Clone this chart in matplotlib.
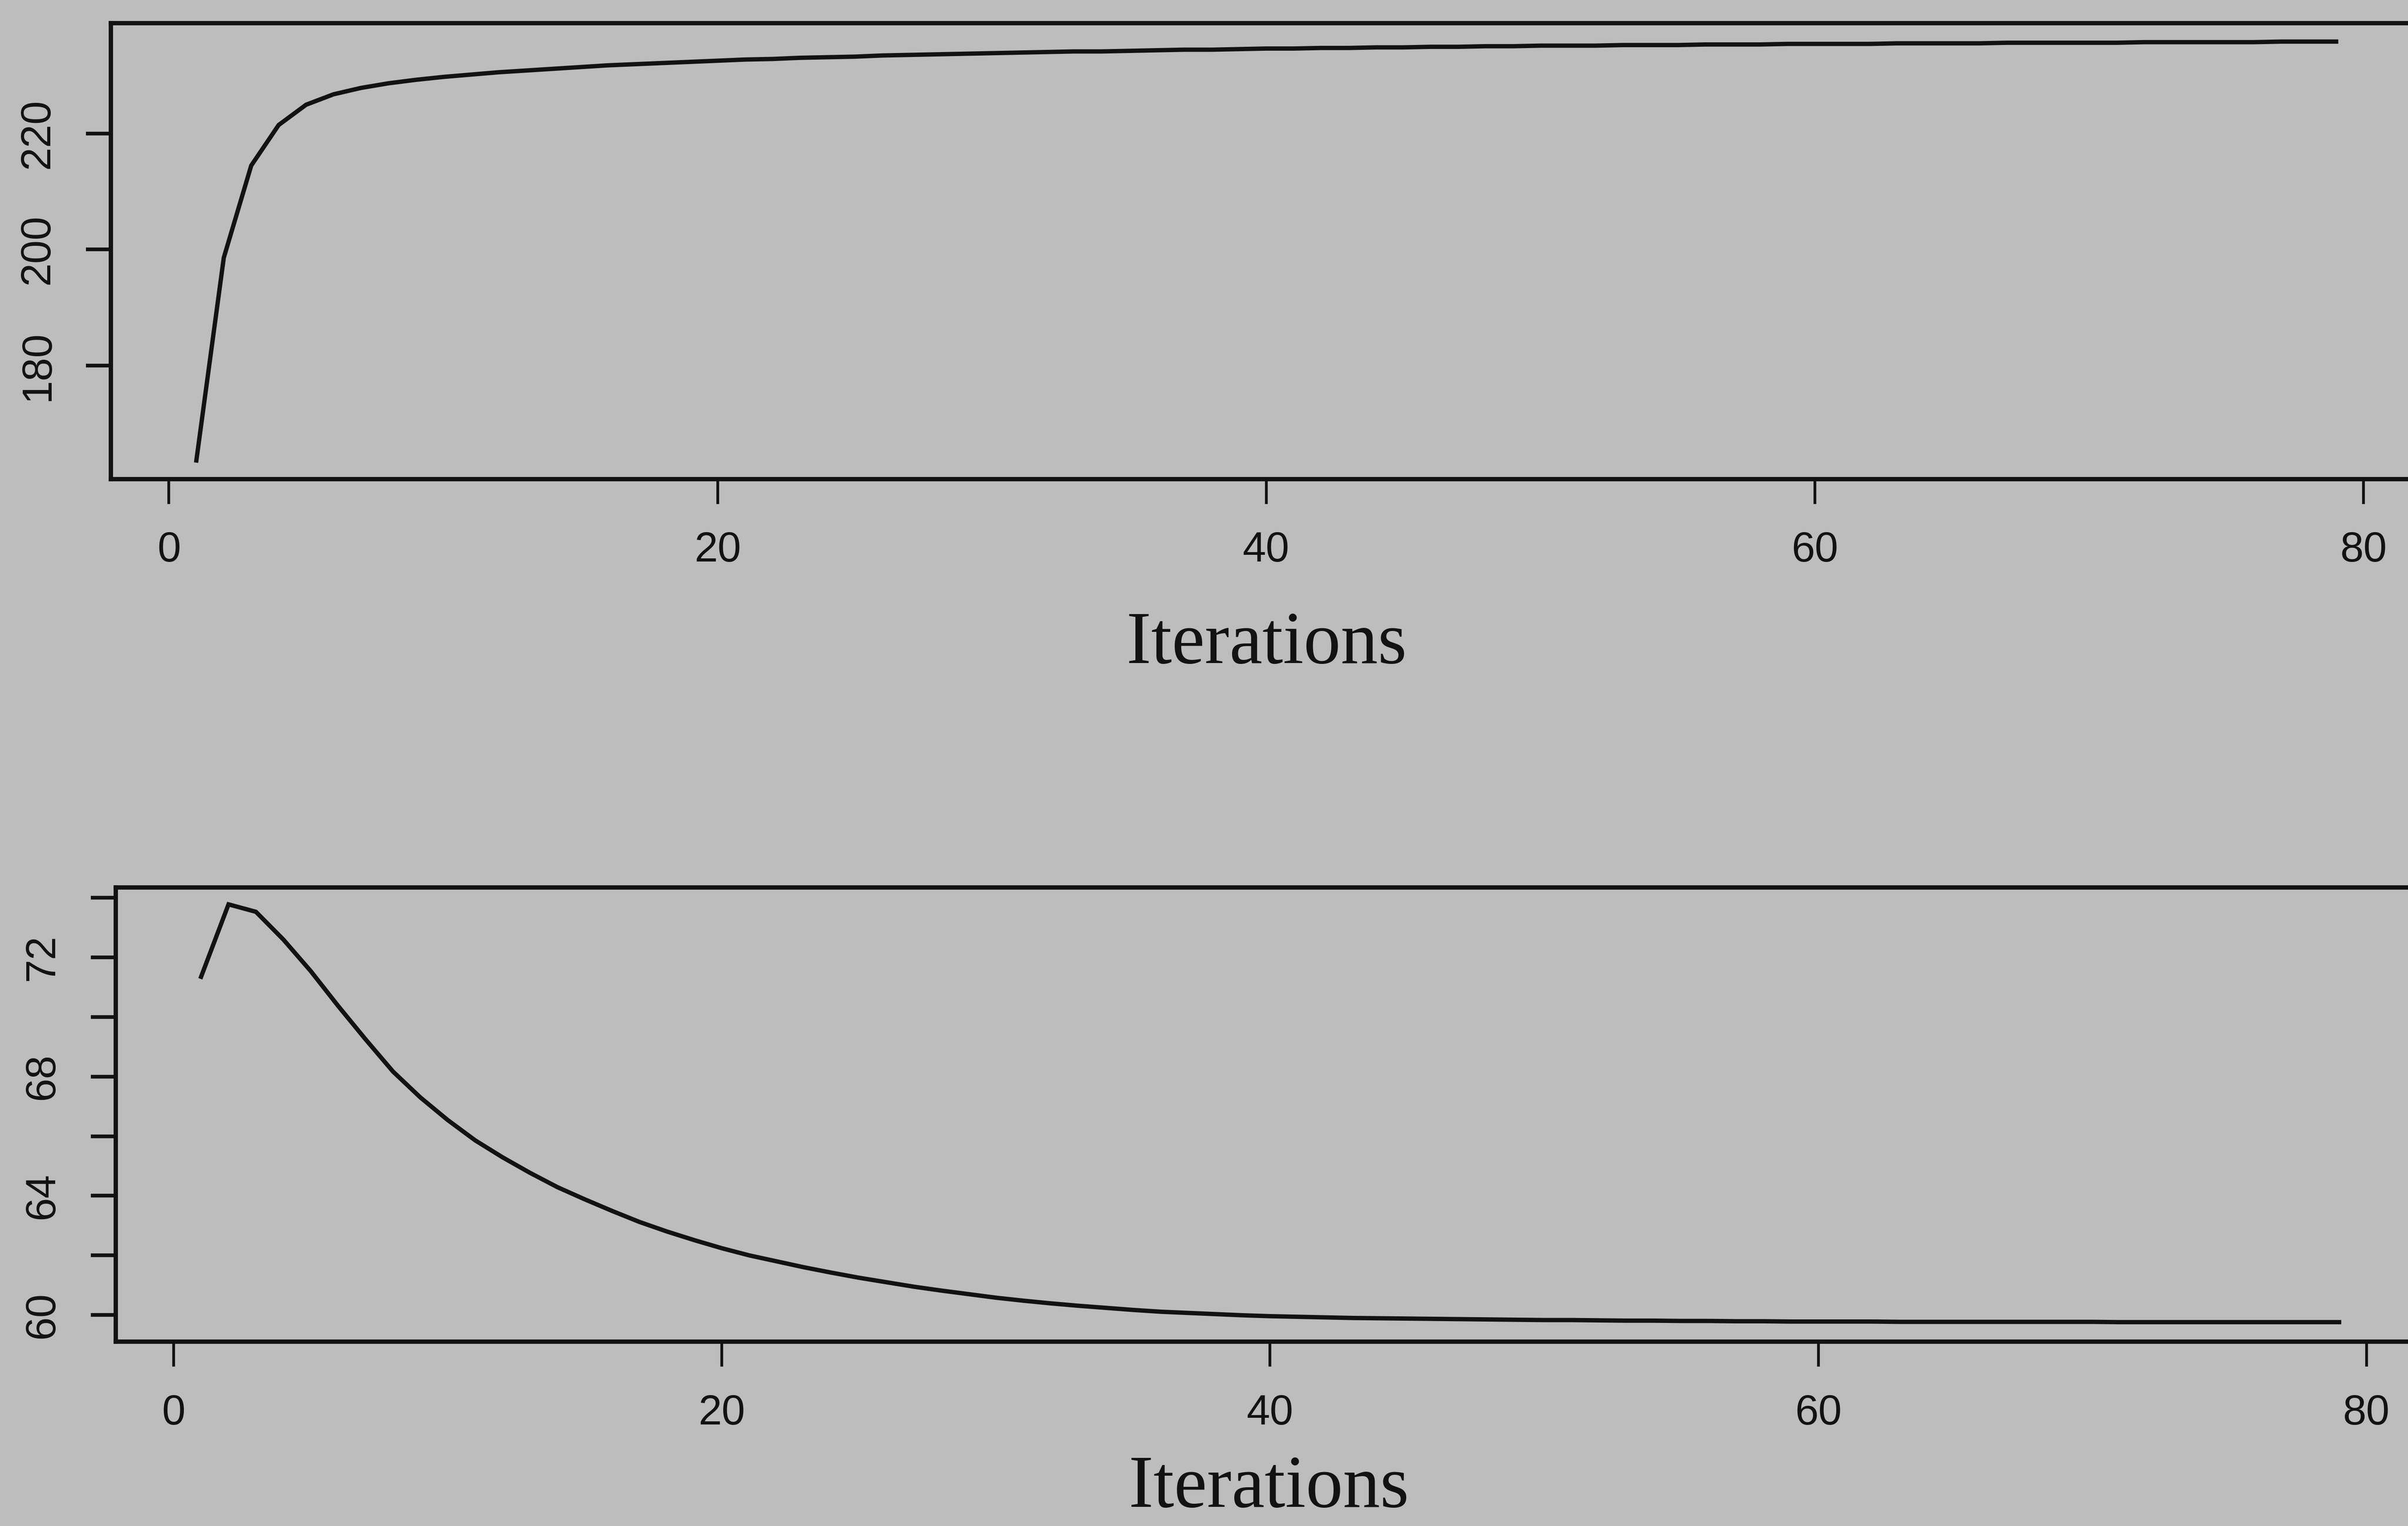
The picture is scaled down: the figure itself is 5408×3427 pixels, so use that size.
import matplotlib.pyplot as plt
import numpy as np

# iterations 1..79
iterations = list(range(1, 80))

top_values = [
    163.6, 198.6, 214.5, 221.5, 225.0, 226.8, 227.9, 228.7, 229.3, 229.8,
    230.2, 230.6, 230.9, 231.2, 231.5, 231.8, 232.0, 232.2, 232.4, 232.6,
    232.8, 232.9, 233.1, 233.2, 233.3, 233.5, 233.6, 233.7, 233.8, 233.9,
    234.0, 234.1, 234.2, 234.2, 234.3, 234.4, 234.5, 234.5, 234.6, 234.7,
    234.7, 234.8, 234.8, 234.9, 234.9, 235.0, 235.0, 235.1, 235.1, 235.2,
    235.2, 235.2, 235.3, 235.3, 235.3, 235.4, 235.4, 235.4, 235.5, 235.5,
    235.5, 235.5, 235.6, 235.6, 235.6, 235.6, 235.7, 235.7, 235.7, 235.7,
    235.7, 235.8, 235.8, 235.8, 235.8, 235.8, 235.9, 235.9, 235.9,
]

bottom_values = [
    71.35, 73.78, 73.53, 72.60, 71.54, 70.37, 69.25, 68.17, 67.30, 66.54,
    65.86, 65.29, 64.77, 64.29, 63.88, 63.49, 63.12, 62.80, 62.51, 62.24,
    62.00, 61.80, 61.60, 61.42, 61.25, 61.10, 60.95, 60.82, 60.70, 60.58,
    60.48, 60.39, 60.31, 60.24, 60.17, 60.11, 60.07, 60.03, 59.99, 59.96,
    59.94, 59.92, 59.90, 59.89, 59.88, 59.87, 59.86, 59.85, 59.84, 59.83,
    59.83, 59.82, 59.81, 59.81, 59.80, 59.80, 59.79, 59.79, 59.78, 59.78,
    59.78, 59.78, 59.77, 59.77, 59.77, 59.77, 59.77, 59.77, 59.77, 59.77,
    59.76, 59.76, 59.76, 59.76, 59.76, 59.76, 59.76, 59.76, 59.76,
]

x_ticks = [0, 20, 40, 60, 80]
top_yticks = [180, 200, 220]
top_ylabels = ['180', '200', '220']
bottom_yticks = [60, 62, 64, 66, 68, 70, 72, 74]
bottom_ylabels = ['60', '', '64', '', '68', '', '72', '']

x_label = 'Iterations'

BG = '#bdbdbd'
INK = '#121212'
LW = 7.0

fig = plt.figure(figsize=(54.08, 34.27), dpi=100, facecolor=BG)


def draw_panel(rect, y, ylim, yticks, ylabels):
    ax = fig.add_axes(rect, facecolor=BG)
    ax.plot(iterations, y, color=INK, lw=LW, solid_joinstyle='miter')
    ax.set_xlim(-2.12, 82.12)
    ax.set_ylim(*ylim)
    ax.set_xticks(x_ticks)
    ax.set_yticks(yticks)
    ax.set_yticklabels(ylabels, rotation=90, va='center')
    for sp in ax.spines.values():
        sp.set_color(INK)
        sp.set_linewidth(LW)
    ax.tick_params(axis='x', direction='out', length=40, width=4.5, color=INK,
                   pad=44, labelsize=68, labelcolor=INK)
    ax.tick_params(axis='y', direction='out', length=40, width=6.0, color=INK,
                   pad=46, labelsize=68, labelcolor=INK)
    for lab in ax.get_xticklabels() + ax.get_yticklabels():
        lab.set_family('Liberation Sans')
    return ax


draw_panel([0.046, 0.6861, 0.9597, 0.2988], top_values,
           (160.4, 239.1), top_yticks, top_ylabels)
draw_panel([0.048, 0.1207, 0.9589, 0.2978], bottom_values,
           (59.1, 74.35), bottom_yticks, bottom_ylabels)

fig.text(0.526, 0.5654, x_label, ha='center', va='baseline',
         family='Liberation Serif', fontsize=120, color=INK)
fig.text(0.527, 0.0125, x_label, ha='center', va='baseline',
         family='Liberation Serif', fontsize=120, color=INK)

fig.savefig('out.png', dpi=100, facecolor=BG)
